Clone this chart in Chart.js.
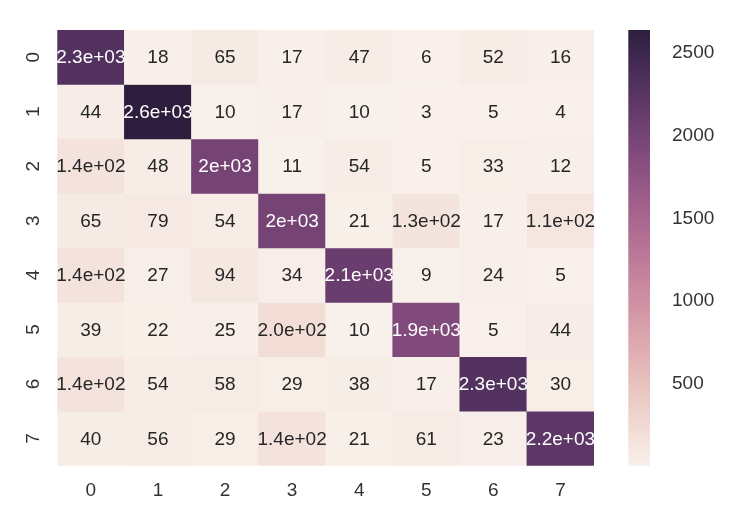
<!DOCTYPE html>
<html><head><meta charset="utf-8">
<script src="https://cdn.jsdelivr.net/npm/chart.js@4"></script>
<style>
html,body{margin:0;padding:0;background:#fff;}
#wrap{position:relative;width:748px;height:526px;background:#fff;}
#main{position:absolute;left:0;top:0;width:610px;height:526px;}
#cbar{position:absolute;left:610px;top:0;width:138px;height:526px;}
</style></head><body>
<div id="wrap"><div id="main"><canvas id="c1"></canvas></div><div id="cbar"><canvas id="c2"></canvas></div></div>
<script>
// ---- data ----
const colLabels = ['0','1','2','3','4','5','6','7'];
const rowLabels = ['0','1','2','3','4','5','6','7'];
const row0 = [2300, 18, 65, 17, 47, 6, 52, 16];
const row1 = [44, 2640, 10, 17, 10, 3, 5, 4];
const row2 = [140, 48, 2000, 11, 54, 5, 33, 12];
const row3 = [65, 79, 54, 2000, 21, 130, 17, 110];
const row4 = [140, 27, 94, 34, 2100, 9, 24, 5];
const row5 = [39, 22, 25, 200, 10, 1900, 5, 44];
const row6 = [140, 54, 58, 29, 38, 17, 2300, 30];
const row7 = [40, 56, 29, 140, 21, 61, 23, 2200];
const annot0 = ['2.3e+03','18','65','17','47','6','52','16'];
const annot1 = ['44','2.6e+03','10','17','10','3','5','4'];
const annot2 = ['1.4e+02','48','2e+03','11','54','5','33','12'];
const annot3 = ['65','79','54','2e+03','21','1.3e+02','17','1.1e+02'];
const annot4 = ['1.4e+02','27','94','34','2.1e+03','9','24','5'];
const annot5 = ['39','22','25','2.0e+02','10','1.9e+03','5','44'];
const annot6 = ['1.4e+02','54','58','29','38','17','2.3e+03','30'];
const annot7 = ['40','56','29','1.4e+02','21','61','23','2.2e+03'];
const colorbarTicks = [500, 1000, 1500, 2000, 2500];

const matrix = [row0,row1,row2,row3,row4,row5,row6,row7];
const annots = [annot0,annot1,annot2,annot3,annot4,annot5,annot6,annot7];
const vmin = Math.min(...matrix.flat());
const vmax = Math.max(...matrix.flat());

// seaborn cubehelix_palette(light=.95, dark=.15, as_cmap=True)
function cubehelix(t){
  const light=0.95, dark=0.15, start=0, rot=0.4, gamma=1, hue=0.8;
  const x = light + (dark-light)*Math.min(1,Math.max(0,t));
  const xg = Math.pow(x,gamma);
  const a = hue*xg*(1-xg)/2;
  const phi = 2*Math.PI*(start/3 + rot*x);
  const f=(p0,p1)=>Math.min(1,Math.max(0, xg + a*(p0*Math.cos(phi)+p1*Math.sin(phi))));
  return [f(-0.14861,1.78277), f(-0.29227,-0.90649), f(1.97294,0)];
}
function toCss(c){ return 'rgb('+c.map(v=>Math.round(v*255)).join(',')+')'; }
function valColor(v){ return cubehelix((v-vmin)/(vmax-vmin)); }
function lum(c){
  const l = c.map(v => v<=0.03928 ? v/12.92 : Math.pow((v+0.055)/1.055,2.4));
  return 0.2126*l[0]+0.7152*l[1]+0.0722*l[2];
}

const FONT = {family:'"Liberation Sans", Arial, sans-serif', size:19};
const TXT = '#333333';

const annotPlugin = {
  id:'annot',
  afterDatasetsDraw(chart){
    const ctx = chart.ctx;
    ctx.save();
    ctx.font = '19px "Liberation Sans", Arial, sans-serif';
    ctx.textAlign='center'; ctx.textBaseline='middle';
    chart.data.datasets.forEach((ds, r) => {
      const meta = chart.getDatasetMeta(r);
      meta.data.forEach((bar, c) => {
        const v = ds.values[c];
        const p = bar.getProps(['x','y','base'], true);
        ctx.fillStyle = lum(valColor(v)) < 0.408 ? '#ffffff' : '#262626';
        ctx.fillText(annots[r][c], p.x, (p.y+p.base)/2 + 1);
      });
    });
    ctx.restore();
  }
};

new Chart(document.getElementById('c1'), {
  type:'bar',
  data:{
    labels: colLabels,
    datasets: matrix.map((row, r) => ({
      label: rowLabels[r],
      data: row.map(() => 1),
      values: row,
      backgroundColor: row.map(v => toCss(valColor(v))),
      borderWidth: 0,
      barPercentage: 1,
      categoryPercentage: 1,
      stack: 's'
    }))
  },
  options:{
    responsive:true, maintainAspectRatio:false, animation:false,
    layout:{padding:{top:30,right:16,left:0,bottom:0}},
    plugins:{legend:{display:false}, tooltip:{enabled:false}},
    scales:{
      x:{ stacked:true, grid:{display:false}, border:{display:false},
          ticks:{font:FONT, color:TXT, padding:6},
          afterFit(s){ s.height = 60.3; } },
      y:{ type:'linear', stacked:true, min:0, max:8, reverse:true, display:false },
      yl:{ type:'category', labels: rowLabels, position:'left', offset:true,
           grid:{display:false}, border:{display:false},
           ticks:{minRotation:90, maxRotation:90, crossAlign:'center', padding:10, font:FONT, color:TXT},
           afterFit(s){ s.width = 57.3; } }
    }
  },
  plugins:[annotPlugin]
});

new Chart(document.getElementById('c2'), {
  type:'bar',
  data:{
    labels:['colorbar'],
    datasets:[{
      data:[[vmin, vmax]],
      backgroundColor:(ctx)=>{
        const chart = ctx.chart;
        if(!chart.chartArea) return 'rgba(0,0,0,0)';
        const ys = chart.scales.y;
        const g = chart.ctx.createLinearGradient(0, ys.getPixelForValue(vmin), 0, ys.getPixelForValue(vmax));
        const n = 64;
        for(let i=0;i<=n;i++) g.addColorStop(i/n, toCss(cubehelix(i/n)));
        return g;
      },
      borderWidth:0, barPercentage:1, categoryPercentage:1
    }]
  },
  options:{
    responsive:true, maintainAspectRatio:false, animation:false,
    layout:{padding:{left:18.3, top:30, bottom:60.3, right:0}},
    plugins:{legend:{display:false}, tooltip:{enabled:false}},
    scales:{
      x:{display:false},
      y:{ position:'right', min:vmin, max:vmax, grid:{display:false}, border:{display:false},
          afterBuildTicks(s){ s.ticks = colorbarTicks.map(v=>({value:v})); },
          ticks:{padding:14, font:FONT, color:TXT, callback:(v)=>String(v)},
          afterFit(s){ s.width = 98; } }
    }
  }
});
</script>
</body></html>
